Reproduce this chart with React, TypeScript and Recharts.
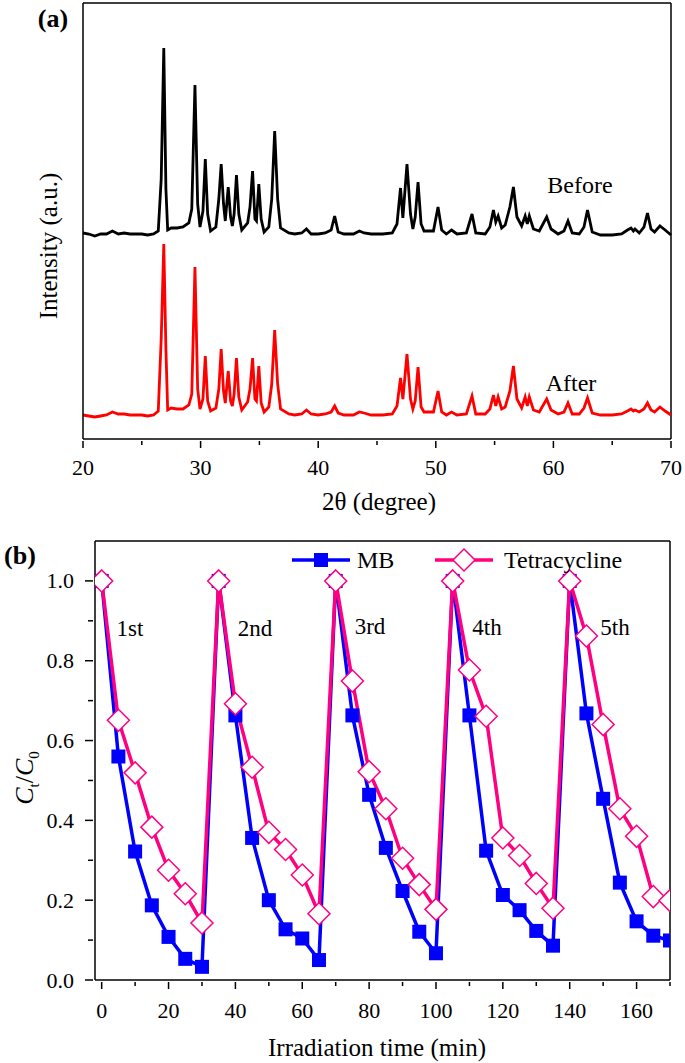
import React from "react";
import { LineChart, Line, XAxis, YAxis, ReferenceLine } from "recharts";

const FONT = "Liberation Serif, DejaVu Serif, serif";
const BLUE = "#0000FF";
const PINK = "#FF0080";
const RED = "#FF0000";

// (a) XRD patterns, intensity in arbitrary units
const twoTheta = [
  20.0, 20.5, 21.0, 21.5, 22.0, 22.5, 23.0, 23.5, 24.0, 25.0,
  25.5, 26.0, 26.4, 26.65, 26.87, 27.05, 27.2, 27.5, 28.0, 28.5,
  29.0, 29.25, 29.52, 29.75, 29.95, 30.2, 30.4, 30.6, 30.85, 31.3,
  31.55, 31.75, 31.95, 32.1, 32.35, 32.55, 32.7, 32.85, 33.05, 33.25,
  33.5, 34.0, 34.2, 34.42, 34.62, 34.75, 34.95, 35.15, 35.4, 35.8,
  36.05, 36.3, 36.55, 36.8, 37.5, 38.0, 38.6, 39.0, 39.4, 40.0,
  40.6, 41.1, 41.4, 41.7, 42.2, 43.0, 43.5, 43.9, 44.5, 45.5,
  46.3, 46.7, 47.0, 47.2, 47.55, 47.85, 48.05, 48.25, 48.49, 48.75,
  49.0, 49.8, 50.19, 50.5, 50.9, 51.34, 51.8, 52.6, 53.08, 53.4,
  54.2, 54.6, 54.9, 55.1, 55.3, 55.6, 55.9, 56.3, 56.6, 56.9,
  57.3, 57.6, 57.78, 57.95, 58.3, 58.8, 59.43, 59.8, 60.4, 60.9,
  61.24, 61.6, 62.2, 62.6, 62.9, 63.3, 64.0, 65.0, 65.8, 66.3,
  66.6, 66.8, 66.94, 67.3, 67.7, 68.0, 68.3, 68.6, 69.06, 69.5,
  70.0,
];

const beforeIntensity = [
  206, 205, 203, 205, 205, 208, 205, 206, 205, 205,
  204, 205, 208, 260, 391, 250, 209, 211, 211, 212,
  216, 230, 354, 235, 212, 228, 280, 225, 208, 212,
  240, 275, 235, 218, 252, 222, 213, 225, 264, 225,
  209, 216, 232, 268, 220, 218, 255, 220, 207, 212,
  240, 308, 240, 211, 206, 205, 206, 210, 205, 205,
  206, 209, 223, 207, 205, 205, 208, 206, 205, 205,
  206, 215, 251, 221, 275, 225, 210, 222, 257, 215,
  208, 208, 232, 209, 205, 209, 205, 206, 225, 206,
  205, 212, 229, 217, 223, 211, 214, 232, 252, 222,
  213, 223, 215, 223, 210, 208, 222, 210, 205, 208,
  218, 206, 205, 212, 229, 207, 204, 204, 205, 209,
  211, 208, 210, 206, 212, 226, 210, 207, 213, 209,
  204,
];

const afterIntensity = [
  24, 23, 22, 23, 24, 27, 25, 25, 24, 24,
  23, 24, 28, 100, 195, 90, 29, 31, 30, 30,
  34, 45, 172, 50, 30, 40, 83, 38, 28, 31,
  50, 90, 48, 36, 68, 38, 33, 45, 81, 42,
  29, 37, 50, 81, 40, 38, 73, 36, 27, 32,
  55, 109, 55, 30, 25, 24, 25, 29, 25, 24,
  25, 27, 33, 26, 24, 24, 27, 26, 24, 24,
  25, 33, 61, 40, 85, 40, 30, 38, 72, 32,
  27, 27, 48, 27, 24, 27, 24, 25, 43, 25,
  25, 30, 44, 33, 42, 30, 32, 48, 73, 40,
  31, 42, 33, 42, 29, 27, 40, 29, 25, 27,
  36, 25, 25, 31, 41, 26, 24, 24, 25, 28,
  30, 28, 29, 27, 30, 36, 29, 27, 32, 28,
  24,
];

const xrdTicks = [20, 25, 30, 35, 40, 45, 50, 55, 60, 65, 70];
const xrdMajorTicks = [20, 30, 40, 50, 60, 70];

// (b) five photocatalytic cycles
const timeMin = [
  0, 5, 10, 15, 20, 25, 30,
  35, 40, 45, 50, 55, 60, 65,
  70, 75, 80, 85, 90, 95, 100,
  105, 110, 115, 120, 125, 130, 135,
  140, 145, 150, 155, 160, 165, 170,
];

const mbRatio = [
  1.0, 0.56, 0.322, 0.187, 0.108, 0.053, 0.033,
  1.0, 0.663, 0.356, 0.2, 0.127, 0.104, 0.05,
  1.0, 0.663, 0.464, 0.331, 0.223, 0.121, 0.067,
  1.0, 0.663, 0.324, 0.213, 0.175, 0.123, 0.086,
  1.0, 0.668, 0.454, 0.244, 0.147, 0.111, 0.099,
];

const tcRatio = [
  1.0, 0.651, 0.519, 0.383, 0.275, 0.216, 0.143,
  1.0, 0.692, 0.533, 0.37, 0.327, 0.263, 0.166,
  1.0, 0.749, 0.522, 0.429, 0.305, 0.239, 0.177,
  1.0, 0.777, 0.661, 0.356, 0.312, 0.242, 0.18,
  1.0, 0.862, 0.64, 0.429, 0.36, 0.209, 0.199,
];

const timeTicks = [0, 10, 20, 30, 40, 50, 60, 70, 80, 90, 100, 110, 120, 130, 140, 150, 160, 170];
const timeMajorTicks = [0, 20, 40, 60, 80, 100, 120, 140, 160];
const ratioTicks = [0, 0.1, 0.2, 0.3, 0.4, 0.5, 0.6, 0.7, 0.8, 0.9, 1.0];
const ratioMajorTicks = [0, 0.2, 0.4, 0.6, 0.8, 1.0];

const cycleLabels = ["1st", "2nd", "3rd", "4th", "5th"];
const cycleLabelPos = [
  { x: 130, y: 628 },
  { x: 255, y: 628 },
  { x: 370, y: 626 },
  { x: 487, y: 627 },
  { x: 615, y: 627 },
];

const xrdData = twoTheta.map((t, i) => ({
  t,
  before: beforeIntensity[i],
  after: afterIntensity[i],
}));

const cycleData = timeMin.map((t, i) => ({
  t,
  mb: mbRatio[i],
  tc: tcRatio[i],
}));

function XrdTick(props: any) {
  const { x, y, payload } = props;
  const major = xrdMajorTicks.includes(payload.value);
  return (
    <g>
      <line x1={x} x2={x} y1={y} y2={y + (major ? 7 : 4)} stroke="#000" strokeWidth={1.5} />
      {major && (
        <text x={x} y={y + 34} textAnchor="middle" fontSize={22} fontFamily={FONT} fill="#000">
          {payload.value}
        </text>
      )}
    </g>
  );
}

function TimeTick(props: any) {
  const { x, y, payload } = props;
  const major = timeMajorTicks.includes(payload.value);
  return (
    <g>
      <line x1={x} x2={x} y1={y} y2={y + (major ? 7 : 4)} stroke="#000" strokeWidth={1.5} />
      {major && (
        <text x={x} y={y + 36} textAnchor="middle" fontSize={22} fontFamily={FONT} fill="#000">
          {payload.value}
        </text>
      )}
    </g>
  );
}

function RatioTick(props: any) {
  const { x, y, payload } = props;
  const v = payload.value as number;
  const major = ratioMajorTicks.some((m) => Math.abs(m - v) < 1e-6);
  return (
    <g>
      <line x1={x - (major ? 8 : 5)} x2={x} y1={y} y2={y} stroke="#000" strokeWidth={1.5} />
      {major && (
        <text x={x - 19} y={y + 7.5} textAnchor="end" fontSize={22} fontFamily={FONT} fill="#000">
          {v.toFixed(1)}
        </text>
      )}
    </g>
  );
}

function SquareDot(props: any) {
  const { cx, cy, index } = props;
  if (cx == null || cy == null) return <g key={`sq-${index}`} />;
  return <rect key={`sq-${index}`} x={cx - 7} y={cy - 7} width={14} height={14} fill={BLUE} />;
}

function DiamondDot(props: any) {
  const { cx, cy, index } = props;
  if (cx == null || cy == null) return <g key={`dm-${index}`} />;
  const r = 11;
  return (
    <path
      key={`dm-${index}`}
      d={`M${cx},${cy - r}L${cx + r},${cy}L${cx},${cy + r}L${cx - r},${cy}Z`}
      fill="#fff"
      stroke={PINK}
      strokeWidth={1.5}
    />
  );
}

function Txt({
  x,
  y,
  size,
  bold,
  rotate,
  children,
}: {
  x: number;
  y: number;
  size: number;
  bold?: boolean;
  rotate?: boolean;
  children: React.ReactNode;
}) {
  return (
    <div
      style={{
        position: "absolute",
        left: x,
        top: y,
        transform: `translate(-50%, -50%)${rotate ? " rotate(-90deg)" : ""}`,
        fontSize: size,
        fontWeight: bold ? 700 : 400,
        fontFamily: FONT,
        lineHeight: 1,
        whiteSpace: "nowrap",
        pointerEvents: "none",
        color: "#000",
      }}
    >
      {children}
    </div>
  );
}

function LegendItem({ x, y, kind, label }: { x: number; y: number; kind: "mb" | "tc"; label: string }) {
  const color = kind === "mb" ? BLUE : PINK;
  return (
    <div style={{ position: "absolute", left: x, top: y - 15, height: 30, display: "flex", alignItems: "center" }}>
      <svg width={60} height={30}>
        <line x1={0} x2={58} y1={15} y2={15} stroke={color} strokeWidth={3.5} />
        {kind === "mb" ? (
          <rect x={22} y={8} width={14} height={14} fill={BLUE} />
        ) : (
          <path d="M29,4L40,15L29,26L18,15Z" fill="#fff" stroke={PINK} strokeWidth={1.5} />
        )}
      </svg>
      <span style={{ fontSize: 24, lineHeight: 1, fontFamily: FONT, marginLeft: kind === "mb" ? 5 : 9 }}>
        {label}
      </span>
    </div>
  );
}

export default function App() {
  return (
    <div
      style={{
        position: "absolute",
        left: 0,
        top: 0,
        width: 685,
        height: 1063,
        background: "#fff",
        fontFamily: FONT,
        overflow: "hidden",
      }}
    >
      {/* (a) XRD */}
      <div style={{ position: "absolute", left: 0, top: 0 }}>
        <LineChart width={685} height={530} data={xrdData} margin={{ top: 3, right: 14, bottom: 0, left: 0 }}>
          <XAxis
            dataKey="t"
            type="number"
            domain={[20, 70]}
            ticks={xrdTicks}
            interval={0}
            height={91}
            tickSize={0}
            tickLine={false}
            tick={<XrdTick />}
            axisLine={{ stroke: "#000", strokeWidth: 1.5 }}
          />
          <YAxis
            type="number"
            domain={[0, 436]}
            width={83}
            tick={false}
            tickLine={false}
            axisLine={{ stroke: "#000", strokeWidth: 1.5 }}
          />
          <ReferenceLine y={436} stroke="#000" strokeWidth={1.5} />
          <ReferenceLine x={70} stroke="#000" strokeWidth={1.5} />
          <Line dataKey="before" type="linear" stroke="#000" strokeWidth={2.8} dot={false} isAnimationActive={false} />
          <Line dataKey="after" type="linear" stroke={RED} strokeWidth={2.8} dot={false} isAnimationActive={false} />
        </LineChart>
      </div>

      {/* (b) cycling runs */}
      <div style={{ position: "absolute", left: 0, top: 530 }}>
        <LineChart width={685} height={533} data={cycleData} margin={{ top: 11, right: 15, bottom: 0, left: 0 }}>
          <XAxis
            dataKey="t"
            type="number"
            domain={[-2, 170]}
            allowDataOverflow
            ticks={timeTicks}
            interval={0}
            height={83}
            tickSize={0}
            tickLine={false}
            tick={<TimeTick />}
            axisLine={{ stroke: "#000", strokeWidth: 1.5 }}
          />
          <YAxis
            type="number"
            domain={[0, 1.1]}
            ticks={ratioTicks}
            interval={0}
            width={95}
            tickSize={0}
            tickLine={false}
            tick={<RatioTick />}
            axisLine={{ stroke: "#000", strokeWidth: 1.5 }}
          />
          <ReferenceLine y={1.1} stroke="#000" strokeWidth={1.5} />
          <ReferenceLine x={170} stroke="#000" strokeWidth={1.5} />
          <Line
            dataKey="mb"
            type="linear"
            stroke={BLUE}
            strokeWidth={3.5}
            dot={SquareDot}
            isAnimationActive={false}
          />
          <Line
            dataKey="tc"
            type="linear"
            stroke={PINK}
            strokeWidth={3.5}
            dot={DiamondDot}
            isAnimationActive={false}
          />
        </LineChart>
      </div>

      {/* panel (a) text */}
      <Txt x={53} y={19} size={26} bold>
        (a)
      </Txt>
      <Txt x={48} y={246} size={25} rotate>
        Intensity (a.u.)
      </Txt>
      <Txt x={379} y={501} size={25}>
        2θ (degree)
      </Txt>
      <Txt x={580} y={185} size={24}>
        Before
      </Txt>
      <Txt x={571} y={383} size={24}>
        After
      </Txt>

      {/* panel (b) text */}
      <Txt x={20} y={556} size={26} bold>
        (b)
      </Txt>
      <Txt x={27} y={778} size={26} rotate>
        <i>C</i>
        <sub style={{ fontSize: 15 }}>t</sub>/<i>C</i>
        <sub style={{ fontSize: 15 }}>0</sub>
      </Txt>
      <Txt x={377} y={1047} size={25}>
        Irradiation time (min)
      </Txt>
      {cycleLabels.map((c, i) => (
        <Txt key={c} x={cycleLabelPos[i].x} y={cycleLabelPos[i].y} size={23}>
          {c}
        </Txt>
      ))}
      <LegendItem x={292} y={560} kind="mb" label="MB" />
      <LegendItem x={435} y={560} kind="tc" label="Tetracycline" />
    </div>
  );
}
